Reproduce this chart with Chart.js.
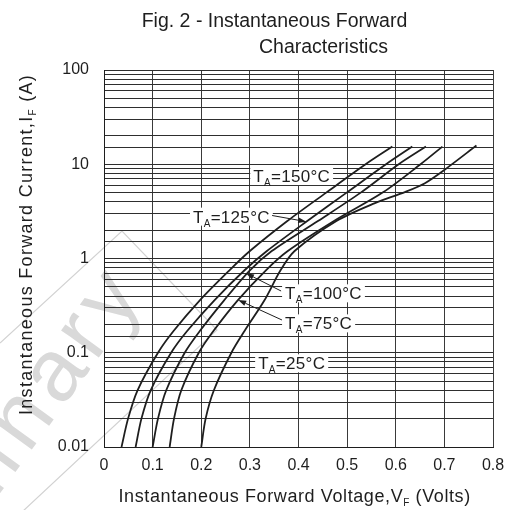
<!DOCTYPE html>
<html><head><meta charset="utf-8">
<script src="https://cdn.jsdelivr.net/npm/chart.js@4.4.1/dist/chart.umd.min.js"></script>
<style>html,body{margin:0;padding:0;background:#fff;}#wrap{position:absolute;left:0;top:0;width:514px;height:510px;}</style>
</head><body><div id="wrap"><canvas id="c" width="514" height="510"></canvas></div>
<script>
// ---- data ----
const xTickValues = [0, 0.1, 0.2, 0.3, 0.4, 0.5, 0.6, 0.7, 0.8];
const yTickLabels = ['0.01', '0.1', '1', '10', '100'];

const current = [0.01, 0.02, 0.04, 0.1, 0.17, 0.36, 0.75, 1.2, 2.5, 5, 10, 15.4];
const voltage150 = [0.036, 0.0495, 0.069, 0.111, 0.143, 0.197, 0.258, 0.300, 0.377, 0.457, 0.538, 0.593];
const voltage125 = [0.065, 0.077, 0.096, 0.138, 0.171, 0.227, 0.289, 0.335, 0.418, 0.499, 0.580, 0.634];
const voltage100 = [0.100, 0.111, 0.128, 0.166, 0.197, 0.247, 0.300, 0.345, 0.440, 0.528, 0.606, 0.662];
const voltage75  = [0.135, 0.144, 0.159, 0.195, 0.225, 0.275, 0.333, 0.378, 0.473, 0.573, 0.651, 0.696];
const current25  = [0.01, 0.02, 0.04, 0.1, 0.17, 0.36, 0.75, 1.2, 2.5, 3.85, 5.1, 6.3, 9.1, 15.8];
const voltage25  = [0.200, 0.209, 0.226, 0.262, 0.289, 0.330, 0.363, 0.392, 0.478, 0.556, 0.620, 0.660, 0.705, 0.766];

const seriesNames = ['150', '125', '100', '75', '25'];
const seriesVoltages = [voltage150, voltage125, voltage100, voltage75, voltage25];
const seriesCurrents = [current, current, current, current, current25];

// curve labels: temperature, text anchor (V, I), optional leader (from V,I -> tip V,I)
const labelTemps   = ['150', '125', '100', '75', '25'];
const labelV       = [0.307, 0.183, 0.3724, 0.3724, 0.317];
const labelI       = [7.5, 2.78, 0.427, 0.205, 0.0773];
const leaderFromV  = [null, 0.3457, 0.3642, 0.366, null];
const leaderFromI  = [null, 2.86, 0.452, 0.2226, null];
const leaderTipV   = [null, 0.416, 0.292, 0.276, null];
const leaderTipI   = [null, 2.46, 0.697, 0.363, null];

const FONT = '"Liberation Sans", Arial, Helvetica, sans-serif';
const INK = '#1e1e1e';

function drawRich(ctx, parts, x, y, size, subSize, subDy) {
  for (const p of parts) {
    ctx.font = (p.sub ? subSize : size) + 'px ' + FONT;
    ctx.fillText(p.t, x, y + (p.sub ? subDy : 0));
    x += ctx.measureText(p.t).width;
  }
  return x;
}
function richWidth(ctx, parts, size, subSize) {
  let w = 0;
  for (const p of parts) { ctx.font = (p.sub ? subSize : size) + 'px ' + FONT; w += ctx.measureText(p.t).width; }
  return w;
}

const decorPlugin = {
  id: 'decor',
  beforeDraw(chart) {
    const ctx = chart.ctx;
    ctx.save();
    ctx.fillStyle = '#ffffff';
    ctx.fillRect(0, 0, chart.width, chart.height);
    // faint watermark stamp
    ctx.strokeStyle = '#d2d2d2';
    ctx.lineWidth = 1.2;
    ctx.beginPath();
    ctx.moveTo(0, 343); ctx.lineTo(122, 231); ctx.lineTo(217, 330); ctx.lineTo(22, 512);
    ctx.stroke();
    const th = -54 * Math.PI / 180;
    ctx.font = '88px ' + FONT;
    try { ctx.letterSpacing = '8px'; } catch (e) {}
    const w = ctx.measureText('Prelimin').width + ctx.measureText('a').width / 2;
    const ly = -0.26 * 88;
    const tx = 60, ty = 372;
    const ox = tx - w * Math.cos(th) + ly * Math.sin(th);
    const oy = ty - w * Math.sin(th) - ly * Math.cos(th);
    ctx.translate(ox, oy);
    ctx.rotate(th);
    ctx.fillStyle = '#d9d9d9';
    ctx.fillText('Preliminary', 0, 0);
    ctx.restore();
  },
  afterDatasetsDraw(chart) {
    const ctx = chart.ctx;
    const xs = chart.scales.x, ys = chart.scales.y;
    ctx.save();
    ctx.fillStyle = INK;
    ctx.strokeStyle = INK;
    try { ctx.letterSpacing = '0.3px'; } catch (e) {}
    for (let k = 0; k < labelTemps.length; k++) {
      const parts = [{t: 'T'}, {t: 'A', sub: true}, {t: '=' + labelTemps[k] + '°C'}];
      const px = xs.getPixelForValue(labelV[k]);
      const py = ys.getPixelForValue(labelI[k]);
      const w = richWidth(ctx, parts, 17, 10);
      ctx.fillStyle = '#ffffff';
      ctx.fillRect(px - 3, py - 9, w + 6, 18);
      ctx.fillStyle = INK;
      ctx.textBaseline = 'alphabetic';
      ctx.textAlign = 'left';
      drawRich(ctx, parts, px, py + 6, 17, 10, 4);
      if (leaderTipV[k] !== null) {
        const x0 = xs.getPixelForValue(leaderFromV[k]), y0 = ys.getPixelForValue(leaderFromI[k]);
        const x1 = xs.getPixelForValue(leaderTipV[k]), y1 = ys.getPixelForValue(leaderTipI[k]);
        const ang = Math.atan2(y1 - y0, x1 - x0);
        const L = 8, H = 2.8;
        ctx.lineWidth = 1;
        ctx.beginPath();
        ctx.moveTo(x0, y0);
        ctx.lineTo(x1 - L * Math.cos(ang), y1 - L * Math.sin(ang));
        ctx.stroke();
        ctx.beginPath();
        ctx.moveTo(x1, y1);
        ctx.lineTo(x1 - L * Math.cos(ang) - H * Math.sin(ang), y1 - L * Math.sin(ang) + H * Math.cos(ang));
        ctx.lineTo(x1 - L * Math.cos(ang) + H * Math.sin(ang), y1 - L * Math.sin(ang) - H * Math.cos(ang));
        ctx.closePath();
        ctx.fill();
      }
    }
    ctx.restore();
  },
  afterDraw(chart) {
    const ctx = chart.ctx;
    ctx.save();
    ctx.fillStyle = INK;
    ctx.textAlign = 'left';
    ctx.textBaseline = 'alphabetic';
    ctx.font = '19.5px ' + FONT;
    ctx.fillText('Fig. 2 - Instantaneous Forward', 141.7, 27.3);
    ctx.fillText('Characteristics', 259, 53.3);
    try { ctx.letterSpacing = '0.6px'; } catch (e) {}
    drawRich(ctx, [{t: 'Instantaneous Forward Voltage,V'}, {t: 'F', sub: true}, {t: ' (Volts)'}], 118.5, 501.5, 18, 10, 4);
    try { ctx.letterSpacing = '1.3px'; } catch (e) {}
    ctx.translate(31.7, 415);
    ctx.rotate(-Math.PI / 2);
    drawRich(ctx, [{t: 'Instantaneous Forward Current,I'}, {t: 'F', sub: true}, {t: ' (A)'}], 0, 0, 18, 10, 4);
    ctx.restore();
  }
};

const datasets = seriesNames.map((name, s) => ({
  label: 'TA=' + name + '°C',
  data: seriesVoltages[s].map((v, i) => ({x: v, y: seriesCurrents[s][i]})),
  borderColor: INK,
  borderWidth: 1.8,
  pointRadius: 0,
  fill: false,
  tension: 0.3
}));

new Chart(document.getElementById('c').getContext('2d'), {
  type: 'line',
  data: {datasets},
  options: {
    responsive: false,
    animation: false,
    devicePixelRatio: 1,
    layout: {padding: {left: 0, right: 21, top: 70, bottom: 23}},
    plugins: {legend: {display: false}, tooltip: {enabled: false}, title: {display: false}},
    scales: {
      x: {
        type: 'linear', min: 0, max: 0.8,
        afterFit(s) { s.height = 40; },
        afterBuildTicks(s) { s.ticks = xTickValues.map(v => ({value: v})); },
        ticks: {
          autoSkip: false, maxRotation: 0, padding: 9, color: INK,
          font: {family: FONT, size: 16},
          callback: (v) => (v === 0 ? '0' : Number(v).toFixed(1))
        },
        grid: {color: '#3a3a3a', lineWidth: 1, drawTicks: false},
        border: {color: INK, width: 1}
      },
      y: {
        type: 'logarithmic', min: 0.01, max: 100,
        afterFit(s) { s.width = 104; },
        ticks: {
          autoSkip: false, padding: 15, color: INK,
          font: {family: FONT, size: 16},
          callback: (v) => {
            const l = Math.log10(v);
            if (Math.abs(l - Math.round(l)) < 1e-6) return yTickLabels[Math.round(l) + 2];
            return '';
          }
        },
        grid: {color: '#2e2e2e', lineWidth: 1, drawTicks: false},
        border: {color: INK, width: 1}
      }
    }
  },
  plugins: [decorPlugin]
});
</script></body></html>
